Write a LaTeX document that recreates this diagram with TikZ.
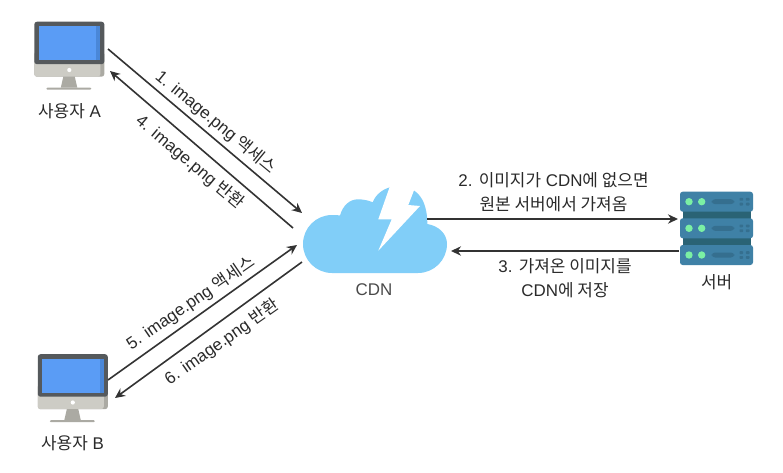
\documentclass[tikz,border=0pt]{standalone}
\usepackage{fontspec}
\setmainfont{Liberation Sans}
\newfontfamily\kofont{Noto Sans CJK KR}
\newcommand{\K}[1]{{\kofont #1}}
\usetikzlibrary{arrows.meta}
\definecolor{txt}{HTML}{2A2A2A}
\definecolor{arr}{HTML}{333333}
\definecolor{cloudc}{HTML}{81CEF8}
\definecolor{bez}{HTML}{55595C}
\definecolor{scr}{HTML}{5A9CF5}
\definecolor{scrd}{HTML}{4A87D8}
\definecolor{silv}{HTML}{CDCCC5}
\definecolor{silvd}{HTML}{ABAAA3}
\definecolor{srv}{HTML}{3F81A6}
\definecolor{srvd}{HTML}{2A6375}
\definecolor{srvm}{HTML}{356F8F}
\definecolor{led}{HTML}{7BF0A4}
\tikzset{
  lbl/.style={text=txt,font=\fontsize{12.7}{18}\selectfont,align=center,inner sep=0pt},
  conn/.style={draw=arr,line width=1.2pt,-{Stealth[length=7.5pt,width=7pt]}},
  monitor/.pic={
    \fill[silvd,rounded corners=2] (0,30) rectangle (70,55);
    \fill[silv,rounded corners=2] (0,30) -- (0,55) -- (66,55) -- (66,30) -- cycle;
    \fill[bez,rounded corners=2] (0,0) -- (70,0) -- (70,42.5) -- (0,42.5) -- cycle;
    \fill[scr] (4.5,4.5) rectangle (62,38.5);
    \fill[scrd] (62,4.5) rectangle (66,38.5);
    \fill[white] (35,48.3) circle (2.1);
    \fill[silvd] (29,55) -- (40.5,55) -- (43,66) -- (26.5,66) -- cycle;
    \fill[silvd,rounded corners=0.8] (12,66) rectangle (57,68);
  },
  serverunit/.pic={
    \fill[srv,rounded corners=2] (0,0) rectangle (73,20);
    \fill[led] (9,10) circle (3.7);
    \fill[led] (21.7,10) circle (3.7);
    \fill[srvm,rounded corners=2.5] (31.7,7.5) rectangle (54.3,12.5);
    \foreach \px in {61.3,67.7} \foreach \py in {7.6,12.4}
      \fill[srvm,rounded corners=0.5] (\px-1.8,\py-1.4) rectangle (\px+1.8,\py+1.4);
  }
}
\begin{document}
\begin{tikzpicture}[x=0.75pt,y=-0.75pt]
\useasboundingbox (0,0) rectangle (783,472);
\fill[white] (0,0) rectangle (783,472);
% user computers
\pic at (34.3,21.7) {monitor};
\pic at (37.8,354.2) {monitor};
% server
\fill[srvd] (682.7,208) rectangle (750.7,248);
\pic at (680,191.7) {serverunit};
\pic at (680,218.3) {serverunit};
\pic at (680,245) {serverunit};
% cloud
\fill[cloudc] (332,273) arc[start angle=90,end angle=270,radius=29]
  .. controls (335,215) and (338,215) .. (340,215.5)
  .. controls (343,205) and (350,199.3) .. (358,199.3)
  .. controls (363,199.3) and (369,200.5) .. (372.7,202.3)
  .. controls (376,194) and (383,189) .. (391,187)
  -- (414.3,190.7)
  .. controls (422,196) and (427.3,206) .. (427.3,224)
  .. controls (439,226) and (447,234) .. (447,244)
  arc[start angle=0,end angle=90,radius=29]
  -- cycle;
\fill[white] (390.7,184) -- (378.3,219.3) -- (391.7,219.3) -- (378.3,250.7)
  -- (420,206) -- (408.3,205) -- (414.5,189) -- (414,180) -- (391,180) -- cycle;
% anchors of the connectors
\coordinate (a1) at (108,49);
\coordinate (a2) at (110,71);
\coordinate (b1) at (108,380);
\coordinate (b2) at (115,398);
\coordinate (c1) at (302,213);
\coordinate (c2) at (293,228);
\coordinate (c3) at (297,245);
\coordinate (c4) at (302,262);
\coordinate (c5) at (427,219);
\coordinate (c6) at (451,251);
\coordinate (s1) at (678,219);
\coordinate (s2) at (679,251);
\draw[conn] (a1) -- (c1);
\draw[conn] (c2) -- (a2);
\draw[conn] (b1) -- (c3);
\draw[conn] (c4) -- (b2);
\draw[conn] (c5) -- (s1);
\draw[conn] (s2) -- (c6);
% labels
\node[lbl] (ua) at (69.5,111) {\K{사용자} A};
\node[lbl] (ub) at (72.5,443) {\K{사용자} B};
\node[lbl,text=txt!85] (cdn) at (374,290) {CDN};
\node[lbl] (srvl) at (716.7,281.7) {\K{서버}};
\node[lbl,rotate=-39.5] (l1) at (216,122) {1. image.png \K{액세스}};
\node[lbl,rotate=-40] (l4) at (190,162) {4. image.png \K{반환}};
\node[lbl,rotate=34.5] (l5) at (190.7,303) {5. image.png \K{액세스}};
\node[lbl,rotate=35] (l6) at (222,342) {6. image.png \K{반환}};
\node[lbl] (l2) at (553.5,192) {2. \K{이미지가} CDN\K{에 없으면}\\\K{원본 서버에서 가져옴}};
\node[lbl] (l3) at (565,278) {3. \K{가져온 이미지를}\\CDN\K{에 저장}};
\end{tikzpicture}
\end{document}
